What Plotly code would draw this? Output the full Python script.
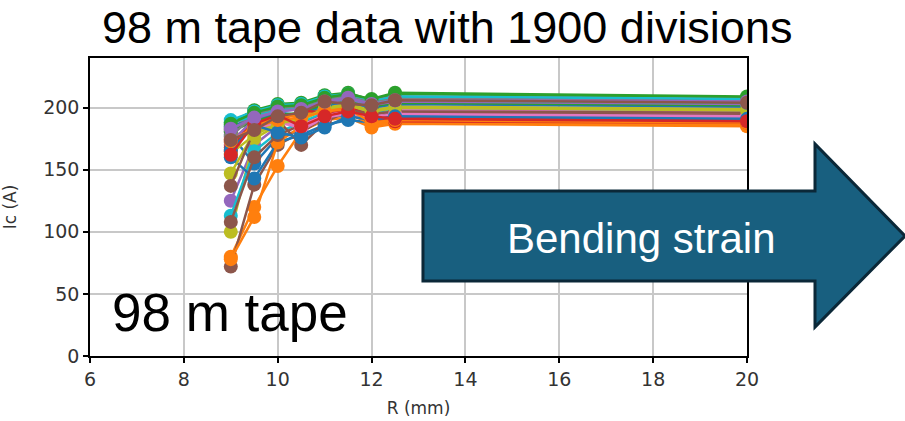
import plotly.graph_objects as go

# Bending radius (mm)
R_mm = [9, 9.5, 10, 10.5, 11, 11.5, 12, 12.5, 20]

# Critical current Ic (A) per tape section
ic_series = [
    [178, 155, 176, 182, 190, 195, 192, 196, 194],
    [80, 120, 153, 181, 190, 192, 184, 187, 185],
    [188, 198, 203, 204, 210, 212, 206, 211, 208],
    [170, 185, 192, 188, 195, 198, 192, 190, 189],
    [125, 170, 185, 192, 200, 204, 200, 203, 201],
    [72, 138, 170, 180, 192, 196, 192, 194, 193],
    [182, 190, 195, 182, 192, 196, 190, 194, 192],
    [186, 196, 200, 198, 205, 208, 203, 206, 204],
    [100, 175, 186, 190, 198, 200, 196, 199, 197],
    [113, 165, 180, 188, 196, 199, 195, 198, 196],
    [160, 143, 172, 178, 186, 190, 188, 191, 190],
    [78, 112, 172, 185, 193, 195, 187, 189, 187],
    [184, 192, 198, 200, 206, 209, 204, 207, 206],
    [165, 188, 196, 186, 194, 200, 194, 192, 190],
    [180, 193, 199, 200, 207, 210, 205, 208, 206],
    [108, 160, 178, 186, 194, 198, 194, 196, 195],
    [176, 184, 190, 186, 194, 197, 193, 198, 196],
    [183, 195, 201, 202, 208, 210, 206, 209, 207],
    [147, 180, 188, 192, 200, 203, 198, 201, 199],
    [190, 197, 202, 203, 209, 211, 205, 209, 207],
    [185, 190, 196, 194, 202, 205, 200, 203, 201],
    [175, 186, 192, 194, 198, 200, 186, 188, 186],
    [181, 189, 194, 196, 203, 206, 201, 204, 202],
    [168, 192, 200, 198, 196, 199, 191, 189, 188],
    [172, 191, 197, 199, 204, 207, 202, 205, 203],
    [137, 182, 190, 170, 188, 198, 195, 197, 196],
    [174, 183, 188, 184, 192, 195, 192, 195, 193],
    [177, 194, 199, 201, 206, 209, 204, 207, 205],
    [163, 178, 187, 191, 199, 202, 197, 200, 198],
    [188, 193, 198, 199, 205, 208, 203, 206, 204],
    [166, 186, 180, 176, 184, 193, 190, 193, 191],
    [173, 184, 190, 192, 197, 199, 188, 190, 188],
    [187, 196, 201, 202, 208, 211, 207, 212, 209],
    [162, 187, 194, 185, 193, 197, 193, 191, 189],
    [183, 192, 197, 199, 205, 208, 203, 206, 205],
    [174, 182, 193, 196, 205, 203, 202, 206, 204],
]

palette = ["#1f77b4", "#ff7f0e", "#2ca02c", "#d62728", "#9467bd",
           "#8c564b", "#e377c2", "#7f7f7f", "#bcbd22", "#17becf"]

x_ticks = [6, 8, 10, 12, 14, 16, 18, 20]
y_ticks = [0, 50, 100, 150, 200]

title_text = "98 m tape data with 1900 divisions"
inner_text = "98 m tape"
arrow_text = "Bending strain"

fig = go.Figure()
for i, ys in enumerate(ic_series):
    c = palette[i % len(palette)]
    fig.add_trace(go.Scatter(
        x=R_mm, y=ys, mode="lines+markers",
        line=dict(color=c, width=2.5),
        marker=dict(color=c, size=14),
        showlegend=False,
    ))

tick_font = dict(family="DejaVu Sans, sans-serif", size=19, color="#333333")
axis_title_font = dict(family="DejaVu Sans, sans-serif", size=17, color="#333333")

fig.update_layout(
    width=905, height=421,
    margin=dict(l=90, r=158, t=58, b=65),
    paper_bgcolor="white", plot_bgcolor="white",
    xaxis=dict(
        range=[6, 20], tickvals=x_ticks, ticktext=[str(v) for v in x_ticks],
        showgrid=True, gridcolor="#c8c8c8", gridwidth=1.5,
        showline=True, linecolor="black", linewidth=1.5, mirror=True,
        ticks="outside", ticklen=5, tickcolor="black", tickwidth=1.5,
        tickfont=tick_font, zeroline=False, automargin=False,
        title=dict(text="R (mm)", font=axis_title_font, standoff=14),
    ),
    yaxis=dict(
        range=[0, 240], tickvals=y_ticks, ticktext=[str(v) for v in y_ticks],
        showgrid=True, gridcolor="#c8c8c8", gridwidth=1.5,
        showline=True, linecolor="black", linewidth=1.5, mirror=True,
        ticks="outside", ticklen=5, tickcolor="black", tickwidth=1.5,
        tickfont=tick_font, zeroline=False, automargin=False,
        title=dict(text="Ic (A)", font=axis_title_font, standoff=22),
    ),
)

# Arrow shape (paper coordinates relative to the plot area)
arrow_path = ("M 0.5068,0.2517 L 1.1035,0.2517 L 1.1035,0.0973 L 1.2405,0.4027 "
              "L 1.1035,0.7114 L 1.1035,0.5537 L 0.5068,0.5537 Z")
fig.add_shape(type="path", path=arrow_path, xref="paper", yref="paper",
              fillcolor="#185f7f", line=dict(color="#0b2838", width=3), layer="above")

fig.add_annotation(text=arrow_text, xref="paper", yref="paper", x=0.840, y=0.395,
                   xanchor="center", yanchor="middle",
                   showarrow=False, font=dict(family="Liberation Sans, Arial, sans-serif", size=42, color="white"))
fig.add_annotation(text=inner_text, xref="paper", yref="paper", x=0.2131, y=0.145,
                   xanchor="center", yanchor="middle",
                   showarrow=False, font=dict(family="Liberation Sans, Arial, sans-serif", size=53, color="black"))
fig.add_annotation(text=title_text, xref="paper", yref="paper", x=0.5434, y=1.104,
                   xanchor="center", yanchor="middle",
                   showarrow=False, font=dict(family="Liberation Sans, Arial, sans-serif", size=45, color="black"))

fig.write_html("out.html")
